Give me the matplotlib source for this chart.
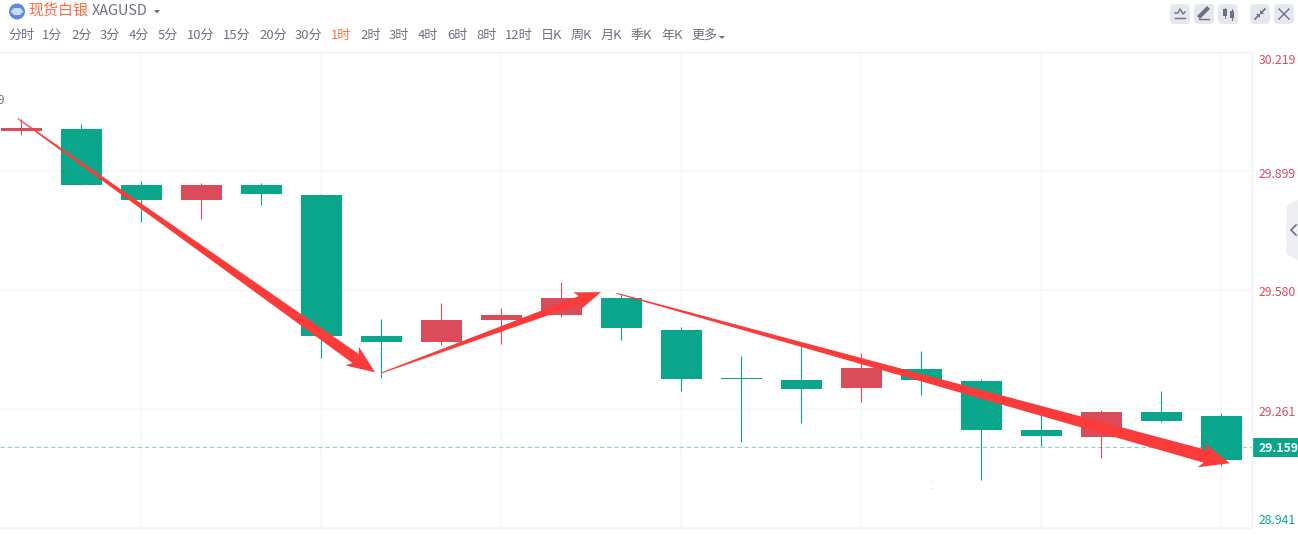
import numpy as np
import matplotlib
matplotlib.use('Agg')
import matplotlib.pyplot as plt
from matplotlib.patches import Circle, FancyBboxPatch, Polygon, Rectangle
from matplotlib.transforms import IdentityTransform

plt.rcParams['font.family'] = ['Noto Sans CJK SC', 'DejaVu Sans']

# candles, oldest first
opens = [30.006, 30.011, 29.862, 29.822, 29.862, 29.835, 29.456, 29.440, 29.499, 29.512, 29.558,
         29.472, 29.343, 29.338, 29.316, 29.367, 29.335, 29.204, 29.185, 29.252, 29.241]
closes = [30.016, 29.862, 29.822, 29.862, 29.838, 29.456, 29.440, 29.499, 29.512, 29.558, 29.477,
          29.340, 29.340, 29.314, 29.370, 29.338, 29.204, 29.188, 29.252, 29.228, 29.123]
highs = [30.039, 30.026, 29.873, 29.868, 29.868, 29.838, 29.503, 29.546, 29.533, 29.602, 29.568,
         29.482, 29.404, 29.436, 29.412, 29.415, 29.342, 29.251, 29.259, 29.310, 29.249]
lows = [29.995, 29.862, 29.763, 29.771, 29.809, 29.397, 29.343, 29.432, 29.434, 29.507, 29.445,
        29.308, 29.172, 29.223, 29.279, 29.298, 29.070, 29.161, 29.129, 29.225, 29.107]
is_up = [True, False, False, True, False, False, False, True, True, True, False,
         False, False, False, True, False, False, False, True, False, False]

price_ticks = [30.219, 29.899, 29.580, 29.261, 28.941]
price_labels = ['30.219', '29.899', '29.580', '29.261', '28.941']
last_price = 29.159
vgrid = [2, 5, 8, 11, 14, 17, 20]

# hand drawn arrows: start candle, start price, tip candle, tip price
arrow_x0 = [-0.05, 6.0, 9.93]
arrow_p0 = [30.040, 29.357, 29.571]
arrow_x1 = [5.90, 9.667, 20.15]
arrow_p1 = [29.359, 29.574, 29.115]

tabs = ['分时', '1分', '2分', '3分', '4分', '5分', '10分', '15分', '20分', '30分', '1时', '2时',
        '3时', '4时', '6时', '8时', '12时', '日K', '周K', '月K', '季K', '年K', '更多']
tab_x = [8, 42, 71, 100, 129, 158, 187, 223, 259, 295, 331, 360,
         389, 418, 447, 476, 505, 541, 571, 601, 631, 661, 691]

GREEN = '#0aa68c'
RED = '#da4c5a'
ARROW = '#fb3a3a'
GREY = '#6c7080'
GRID = '#f6f7f9'
W, H = 1298, 546

fig = plt.figure(figsize=(W / 100, H / 100), dpi=100, facecolor='white')

# page layer in pixels, y down
page = fig.add_axes([0, 0, 1, 1])
page.set_xlim(0, W)
page.set_ylim(H, 0)
page.axis('off')

ax = fig.add_axes([0, (H - 528) / H, 1252 / W, 476 / H], facecolor='none')
ax.set_xlim(-21 / 60, (1252 - 21) / 60)
ax.set_ylim(28.941, 28.941 + 476 * 0.319 / 119)
for name, s in ax.spines.items():
    s.set_color('#f1f2f5')
    s.set_linewidth(1)
ax.spines['left'].set_visible(False)
ax.set_xticks(vgrid)
ax.set_yticks(price_ticks)
ax.tick_params(length=0, labelleft=False, labelbottom=False)
ax.grid(True, color=GRID, lw=1.2)
ax.set_axisbelow(True)

x = np.arange(len(opens))
for i in x:
    c = RED if is_up[i] else GREEN
    ax.vlines(i, lows[i], highs[i], color=c, lw=0.8, zorder=3, snap=True)
    bottom = min(opens[i], closes[i])
    height = abs(opens[i] - closes[i])
    ax.bar(i + 0.008, height, 0.675, bottom=bottom, color=c, zorder=4, linewidth=0)

ax.axhline(last_price, color='#8ed2c3', lw=0.8, ls=(0, (4, 2.5)), zorder=2)

# axis labels sit inside the range at both ends
shifts = [-9, -3, -3, -4, 8]
colors = [RED, RED, RED, RED, GREEN]
for p, s, dy, c in zip(price_ticks, price_labels, shifts, colors):
    ax.annotate(s, xy=(1, p), xycoords=('axes fraction', 'data'), xytext=(7, dy),
                textcoords='offset pixels', va='center', ha='left', color=c, fontsize=8.8,
                annotation_clip=False)

page.add_patch(Rectangle((1253, 438), 45, 19, color=GREEN, lw=0))
page.text(1259, 448, f'{last_price:.3f}', color='white', fontsize=8.8, fontweight='bold', va='center')


def draw_arrow(x0, p0, x1, p1, width, head_w, head_l):
    a = ax.transData.transform((x0, p0))
    b = ax.transData.transform((x1, p1))
    d = (b - a) / np.hypot(*(b - a))
    n = np.array([-d[1], d[0]])
    neck = b - d * head_l * 0.85
    barb = b - d * head_l
    pts = [a + n * 0.5, neck + n * width / 2, barb + n * head_w / 2, b,
           barb - n * head_w / 2, neck - n * width / 2, a - n * 0.5]
    ax.add_patch(Polygon(pts, closed=True, color=ARROW, lw=0, zorder=6,
                         transform=IdentityTransform(), clip_on=False))


arrow_sizes = [(11, 23, 28), (8, 19, 26), (13, 25, 30)]
for i in range(3):
    draw_arrow(arrow_x0[i], arrow_p0[i], arrow_x1[i], arrow_p1[i], *arrow_sizes[i])

# header
page.add_patch(Circle((17, 11.5), 8, color='#5f8ae0', lw=0))
page.add_patch(Polygon([(10.5, 11.5), (14, 8), (20, 8), (23.5, 11.5), (20, 15), (14, 15)], color='#cfdcf8', lw=0))
page.text(28, 10.5, '现货白银', color='#ff6e40', fontsize=10.8, va='center')
page.text(92, 11, 'XAGUSD', color=GREY, fontsize=10.4, va='center')
page.add_patch(Polygon([(154, 10), (160, 10), (157, 13.5)], color=GREY, lw=0))

for t, tx in zip(tabs, tab_x):
    c = '#ff6e40' if t == '1时' else GREY
    page.text(tx, 35, t, color=c, fontsize=9.4, va='center', ha='left')
page.add_patch(Polygon([(719, 36), (725, 36), (722, 39)], color=GREY, lw=0))

# toolbar buttons
for bx in [1170, 1194, 1218, 1250, 1274]:
    page.add_patch(FancyBboxPatch((bx + 2, 6), 16, 16, boxstyle='round,pad=2,rounding_size=4',
                                  color='#e6e8ef', lw=0))
page.plot([1175, 1178, 1180, 1183, 1185], [13, 13, 9, 14, 12], color=GREY, lw=1)
page.plot([1175, 1185], [18, 18], color=GREY, lw=1)
page.plot([1200, 1207], [16, 9], color=GREY, lw=3)
page.plot([1199, 1209], [18.5, 18.5], color=GREY, lw=1)
page.add_patch(Rectangle((1223, 9), 4, 7, color=GREY, lw=0))
page.add_patch(Rectangle((1230, 11), 4, 7, color=GREY, lw=0))
page.plot([1225, 1225], [8, 18], color=GREY, lw=0.7)
page.plot([1232, 1232], [9, 20], color=GREY, lw=0.7)
page.plot([1255, 1259], [19, 15], color=GREY, lw=1.2)
page.plot([1261, 1265], [13, 9], color=GREY, lw=1.2)
page.add_patch(Polygon([(1256, 14), (1260, 14), (1260, 18)], color=GREY, lw=0))
page.add_patch(Polygon([(1260, 10), (1260, 14), (1264, 14)], color=GREY, lw=0))
page.plot([1279, 1289], [9, 19], color=GREY, lw=1)
page.plot([1279, 1289], [19, 9], color=GREY, lw=1)

# side tab
page.add_patch(Polygon([(1298, 200), (1286, 206), (1286, 254), (1298, 260)], color='#eeeff2', lw=0))
page.plot([1296, 1291, 1296], [225, 230, 235], color=GREY, lw=1.2)

# leftovers in the screenshot
page.text(-3, 101, '9', color=GREY, fontsize=8.5, va='center')
page.plot([932, 932], [481, 488], ls='none', marker='s', ms=0.5, mew=0, color='#c4c4c4')

fig.savefig('out.png', dpi=100, facecolor='white')
